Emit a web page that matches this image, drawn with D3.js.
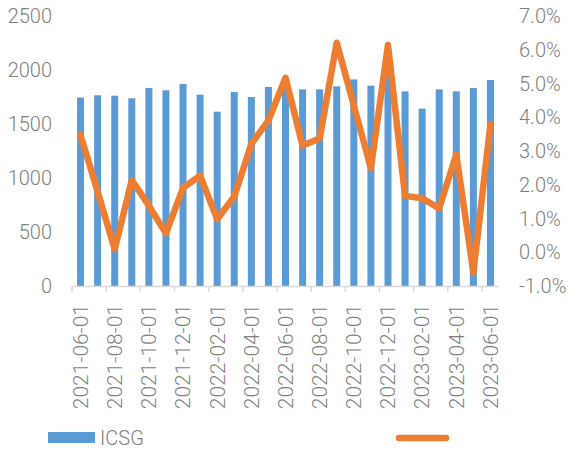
<!DOCTYPE html>
<html>
<head>
<meta charset="utf-8">
<script src="https://cdn.jsdelivr.net/npm/d3@7"></script>
<style>
  body { margin: 0; background: #ffffff; }
  text { font-family: Roboto, "Liberation Sans", sans-serif; font-weight: 300; fill: #7f7f7f; }
</style>
</head>
<body>
<svg class="chart" width="571" height="454"></svg>
<script>
var months = ["2021-06-01","2021-07-01","2021-08-01","2021-09-01","2021-10-01","2021-11-01","2021-12-01",
  "2022-01-01","2022-02-01","2022-03-01","2022-04-01","2022-05-01","2022-06-01","2022-07-01","2022-08-01",
  "2022-09-01","2022-10-01","2022-11-01","2022-12-01","2023-01-01","2023-02-01","2023-03-01","2023-04-01",
  "2023-05-01","2023-06-01"];
var icsg = [1744,1766,1762,1738,1833,1812,1870,1771,1614,1796,1750,1843,1890,1821,1821,
  1849,1913,1855,2000,1802,1642,1821,1802,1833,1907];
var rate = [3.47,1.8,0.09,2.14,1.38,0.56,1.91,2.27,0.98,1.65,3.21,3.9,5.17,3.16,3.37,
  6.21,4.34,2.49,6.14,1.67,1.6,1.3,2.9,-0.6,3.8];
var leftTicks = [0,500,1000,1500,2000,2500];
var rightTicks = [-1,0,1,2,3,4,5,6,7];

var svg = d3.select(".chart");
var plotL = 72, plotR = 499, plotT = 16, plotB = 286;

var x = d3.scaleBand().domain(months).range([plotL, plotR]).paddingInner(0.59).paddingOuter(0.295);
var yL = d3.scaleLinear().domain([0, 2500]).range([plotB, plotT]);
var yR = d3.scaleLinear().domain([-1, 7]).range([plotB, plotT]);
var gap = (x.step() - x.bandwidth()) / 2;
var every2 = months.filter(function(d, i) { return i % 2 == 0; });

// bars
svg.append("g").selectAll("rect").data(icsg).enter().append("rect")
  .attr("x", function(d, i) { return x(months[i]); })
  .attr("y", function(d) { return yL(d); })
  .attr("width", x.bandwidth())
  .attr("height", function(d) { return yL(0) - yL(d); })
  .attr("fill", "#5b9bd5");

// x axis line and ticks
svg.append("line").attr("x1", plotL).attr("x2", plotR).attr("y1", plotB + 0.5).attr("y2", plotB + 0.5)
  .attr("stroke", "#d9d9d9").attr("stroke-width", 1.5);
svg.append("g").selectAll("line").data(every2).enter().append("line")
  .attr("x1", function(d) { return x(d) - gap; })
  .attr("x2", function(d) { return x(d) - gap; })
  .attr("y1", plotB).attr("y2", plotB + 6)
  .attr("stroke", "#d9d9d9").attr("stroke-width", 1.5);

// x labels
svg.append("g").selectAll("text").data(every2).enter().append("text")
  .attr("transform", function(d) { return "translate(" + (x(d) + x.bandwidth() / 2) + ",304) rotate(-90)"; })
  .attr("text-anchor", "end").attr("dy", "0.35em")
  .attr("font-size", 21).text(function(d) { return d; });

// left axis labels
svg.append("g").selectAll("text").data(leftTicks).enter().append("text")
  .attr("x", 52).attr("y", function(d) { return yL(d); }).attr("dy", "0.35em")
  .attr("text-anchor", "end").attr("font-size", 20).text(function(d) { return d; });

// right axis labels
svg.append("g").selectAll("text").data(rightTicks).enter().append("text")
  .attr("x", 519).attr("y", function(d) { return yR(d); }).attr("dy", "0.35em")
  .attr("text-anchor", "start").attr("font-size", 20).text(function(d) { return d.toFixed(1) + "%"; });

// line
var line = d3.line()
  .x(function(d, i) { return x(months[i]) + x.bandwidth() / 2; })
  .y(function(d) { return yR(d); });
svg.append("path").datum(rate).attr("d", line)
  .attr("fill", "none").attr("stroke", "#ed7d31").attr("stroke-width", 6.5)
  .attr("stroke-linejoin", "round").attr("stroke-linecap", "round");

// legend
svg.append("rect").attr("x", 48).attr("y", 432).attr("width", 47).attr("height", 11).attr("fill", "#5b9bd5");
svg.append("text").attr("x", 100).attr("y", 438).attr("dy", "0.35em").attr("font-size", 20).text("ICSG");
svg.append("line").attr("x1", 399).attr("x2", 446).attr("y1", 438).attr("y2", 438)
  .attr("stroke", "#ed7d31").attr("stroke-width", 6.5).attr("stroke-linecap", "round");
</script>
</body>
</html>
